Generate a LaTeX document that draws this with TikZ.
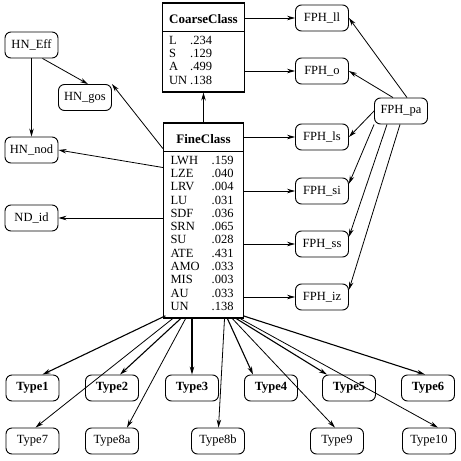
\documentclass[tikz,border=0pt]{standalone}
\usepackage{fontspec}
\setmainfont{Liberation Serif}
\usetikzlibrary{positioning, arrows.meta, shapes.multipart}

\begin{document}
\begin{tikzpicture}[
        x=1pt, y=-1pt,
        >={Stealth[length=8pt, width=4.5pt]},
        node distance=53pt and 80pt,
        on grid,
        every node/.style={font=\fontsize{12.5}{13.3}\selectfont},
        var/.style={draw, rounded corners=6pt, minimum width=53pt, minimum height=26pt, inner sep=2pt, line width=0.9pt},
        typeb/.style={var, font=\fontsize{12.5}{13.3}\selectfont\bfseries},
        cls/.style={draw, line width=1.3pt, rectangle split, rectangle split parts=2,
            rectangle split part align={center, left}, minimum width=80pt, inner xsep=7pt, inner ysep=3pt}
    ]
        \useasboundingbox (0,0) rectangle (461,461);
        \node[cls] (fine) at (203.5,220.5) {\fontsize{13}{14}\selectfont\textbf{FineClass}\rule[-4pt]{0pt}{21pt}
            \nodepart{two}\begin{tabular}{@{}l@{\hspace{12pt}}l@{}}
            LWH & .159\\ LZE & .040\\ LRV & .004\\ LU & .031\\ SDF & .036\\ SRN & .065\\
            SU & .028\\ ATE & .431\\ AMO & .033\\ MIS & .003\\ AU & .033\\ UN & .138
            \end{tabular}};
        \node[cls, above=173pt of fine] (coarse) {\fontsize{13}{14}\selectfont\textbf{CoarseClass}\rule[-4pt]{0pt}{21pt}
            \nodepart{two}\begin{tabular}{@{}l@{\hspace{3pt}}l@{}}
            L & .234\\ S & .129\\ A & .499\\ UN & .138
            \end{tabular}};
% fine parts of the phrase
        \node[var] (fphll) at (322,18) {FPH\_ll};
        \node[var, below=53pt of fphll] (fpho) {FPH\_o};
        \node[var, below=66pt of fpho] (fphls) {FPH\_ls};
        \node[var, below=54pt of fphls] (fphsi) {FPH\_si};
        \node[var, below=53pt of fphsi] (fphss) {FPH\_ss};
        \node[var, below=53pt of fphss] (fphiz) {FPH\_iz};
        \node[var] (fphpa) at (401,111) {FPH\_pa};
% head noun side
        \node[var] (hneff) at (31.5,45) {HN\_Eff};
        \node[var] (hngos) at (85,97.5) {HN\_gos};
        \node[var, below=105pt of hneff] (hnnod) {HN\_nod};
        \node[var, below=68pt of hnnod] (ndid) {ND\_id};
% types
        \node[typeb] (type1) at (32.5,388) {Type1};
        \node[typeb, right=79.5pt of type1] (type2) {Type2};
        \node[typeb, right=80pt of type2] (type3) {Type3};
        \node[typeb, right=79pt of type3] (type4) {Type4};
        \node[typeb, right=78pt of type4] (type5) {Type5};
        \node[typeb, right=79pt of type5] (type6) {Type6};
        \node[var, below=of type1] (type7) {Type7};
        \node[var, below=of type2] (type8a) {Type8a};
        \node[var, below=of type3, xshift=26pt] (type8b) {Type8b};
        \node[var, below=of type5, xshift=-12pt] (type9) {Type9};
        \node[var, below=of type6, xshift=1pt] (type10) {Type10};
\path[->, line width=0.8pt]
        (fine) edge (coarse)
        (coarse.east |- fphll) edge (fphll)
        (coarse.east |- fpho) edge (fpho)
        (fine.east |- fphls) edge (fphls)
        (fine.east |- fphsi) edge (fphsi)
        (fine.east |- fphss) edge (fphss)
        (fine.east |- fphiz) edge (fphiz)
        ([xshift=6pt]fphpa.north) edge (fphll.east)
        ([xshift=-8pt]fphpa.north) edge (fpho.east)
        (fphpa.west) edge (fphls.east)
        (fphpa.south west) edge (fphsi.15)
        ([xshift=-14pt]fphpa.south) edge (fphss.15)
        ([xshift=-1pt]fphpa.south) edge (fphiz.15)
        (hneff) edge (hnnod)
        ([xshift=11pt]hneff.south) edge ([xshift=3pt]hngos.north)
        ([yshift=72pt]fine.west) edge (hngos.north east)
        ([yshift=53pt]fine.west) edge (hnnod.east)
        (fine.west |- ndid) edge (ndid)
        ([xshift=-31pt]fine.south) edge ([xshift=3pt]type7.north)
        ([xshift=-18pt]fine.south) edge ([xshift=15pt]type8a.north)
        ([xshift=21pt]fine.south) edge ([xshift=0.5pt]type8b.north)
        ([xshift=29pt]fine.south) edge ([xshift=-2pt]type9.north)
        ([xshift=37pt]fine.south) edge ([xshift=9pt]type10.north);
\path[->, line width=1.1pt]
        ([xshift=-38pt, yshift=3pt]fine.south) edge ([xshift=10pt]type1.north)
        ([xshift=-23pt]fine.south) edge ([xshift=8pt]type2.north)
        (fine.south -| type3) edge (type3)
        ([xshift=24pt]fine.south) edge ([xshift=-18pt]type4.north)
        ([xshift=33pt]fine.south) edge ([xshift=-22pt]type5.north)
        ([xshift=39.5pt, yshift=3pt]fine.south) edge ([xshift=-3pt]type6.north);
\end{tikzpicture}
\end{document}
